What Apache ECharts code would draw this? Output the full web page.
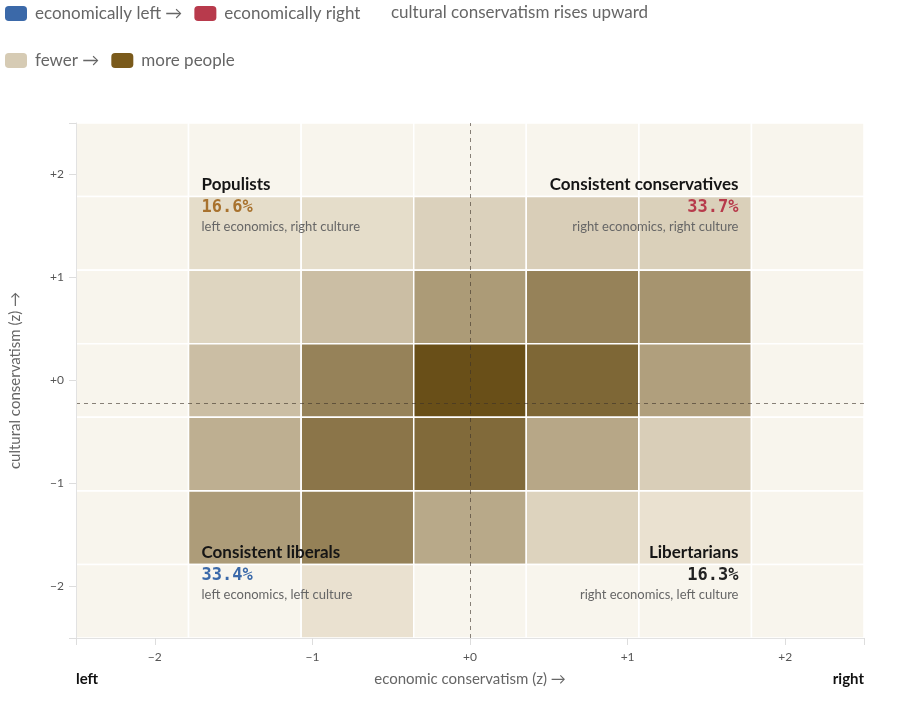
<!DOCTYPE html>
<html>
<head>
<meta charset="utf-8">
<script src="https://cdn.jsdelivr.net/npm/echarts@6/dist/echarts.min.js"></script>
<style>
  html, body { margin: 0; padding: 0; background: #fff; }
  #main { width: 900px; height: 705px; }
</style>
</head>
<body>
<div id="main"></div>
<script>
// bins of the 2D histogram (z-scores), 7 x 7
const binEdges = [-2.5, -1.786, -1.071, -0.357, 0.357, 1.071, 1.786, 2.5];
const econCenters = [-2.143, -1.429, -0.714, 0, 0.714, 1.429, 2.143];
const cultureCenters = [2.143, 1.429, 0.714, 0, -0.714, -1.429, -2.143];

// share of people (%) in each cell, rows top -> bottom, cols left -> right
const shareRows = [
  [0, 0,   0,   0,   0,   0,   0],
  [0, 0.9, 0.9, 1.6, 1.8, 1.7, 0],
  [0, 1.4, 2.8, 5.0, 6.5, 5.4, 0],
  [0, 2.8, 6.5, 9.7, 8.2, 4.7, 0],
  [0, 3.7, 7.3, 8.0, 4.2, 1.8, 0],
  [0, 4.9, 6.6, 4.1, 1.5, 0.6, 0],
  [0, 0,   0.6, 0,   0,   0,   0]
];

// reference lines
const econMean = 0;
const cultureMedian = -0.22;

// quadrant call-outs
const quadNames = ['Populists', 'Consistent conservatives', 'Consistent liberals', 'Libertarians'];
const quadShares = ['16.6%', '33.7%', '33.4%', '16.3%'];
const quadNotes = ['left economics, right culture', 'right economics, right culture',
                   'left economics, left culture', 'right economics, left culture'];
const quadColors = ['#a8722e', '#b73a4b', '#3b69a9', '#222222'];

const tickLabels = [-2, -1, 0, 1, 2];
const tickMarks = [-2.5, -2, -1, 0, 1, 2, 2.5];

const emptyColor = '#f8f5ed';
const minShare = 0.5, maxShare = 10;

const cells = [];
shareRows.forEach(function (row, r) {
  row.forEach(function (v, c) {
    cells.push([econCenters[c], cultureCenters[r], v]);
  });
});

// anchors sit on the inner bin edges of each corner
const quadData = [
  [binEdges[1], binEdges[6], 0],
  [binEdges[6], binEdges[6], 1],
  [binEdges[1], binEdges[1], 2],
  [binEdges[6], binEdges[1], 3]
];

const sans = 'Lato, "Noto Sans", sans-serif';
const mono = '"DejaVu Sans Mono", "Liberation Mono", monospace';

function signed(v) {
  if (v > 0) return '+' + v;
  if (v < 0) return '\u2212' + (-v);
  return '+0';
}

var legendBase = {
  left: 0,
  itemWidth: 22, itemHeight: 15, itemGap: 12,
  icon: 'roundRect',
  selectedMode: false,
  textStyle: { fontSize: 17, color: '#666', fontFamily: sans, padding: [0, 0, 0, 3] }
};

var myChart = echarts.init(document.getElementById('main'));
myChart.setOption({
  animation: false,
  textStyle: { fontFamily: sans },
  legend: [
    Object.assign({}, legendBase, { top: 0, data: ['economically left \u2192', 'economically right'] }),
    Object.assign({}, legendBase, { top: 47, data: ['fewer \u2192', 'more people'] })
  ],
  graphic: [
    { type: 'text', left: 391, top: 4,
      style: { text: 'cultural conservatism rises upward', fontSize: 17, fontFamily: sans, fill: '#666' } },
    { type: 'text', left: 76, top: 672,
      style: { text: 'left', fontSize: 15, fontWeight: 'bold', fontFamily: sans, fill: '#111' } },
    { type: 'text', right: 36, top: 672,
      style: { text: 'right', fontSize: 15, fontWeight: 'bold', fontFamily: sans, fill: '#111' } }
  ],
  grid: { left: 76, right: 36, top: 123, bottom: 67 },
  visualMap: {
    show: false,
    seriesIndex: 0,
    dimension: 2,
    min: minShare, max: maxShare,
    inRange: { color: ['#ebe3d2', '#654a12'] }
  },
  xAxis: {
    type: 'value', min: -2.5, max: 2.5, z: 10,
    name: 'economic conservatism (z) \u2192',
    nameLocation: 'middle', nameGap: 34,
    nameTextStyle: { fontSize: 15, color: '#666', fontFamily: sans },
    axisLine: { onZero: false, lineStyle: { color: '#e2e2e2' } },
    axisTick: { show: true, customValues: tickMarks, length: 7, lineStyle: { color: '#ddd' } },
    axisLabel: { customValues: tickLabels, formatter: signed, margin: 13, fontSize: 12, color: '#555' },
    splitLine: { show: false }
  },
  yAxis: {
    type: 'value', min: -2.5, max: 2.5, z: 10,
    name: 'cultural conservatism (z) \u2192',
    nameLocation: 'middle', nameGap: 53,
    nameTextStyle: { fontSize: 15, color: '#666', fontFamily: sans },
    axisLine: { show: true, onZero: false, lineStyle: { color: '#e2e2e2' } },
    axisTick: { show: true, customValues: tickMarks, length: 7, lineStyle: { color: '#ddd' } },
    axisLabel: { customValues: tickLabels, formatter: signed, margin: 12, fontSize: 12, color: '#555' },
    splitLine: { show: false }
  },
  series: [{
    type: 'custom',
    name: 'cells',
    data: cells,
    renderItem: function (params, api) {
      var half = (binEdges[1] - binEdges[0]) / 2;
      var x = api.value(0), y = api.value(1), v = api.value(2);
      var p0 = api.coord([x - half, y + half]);
      var p1 = api.coord([x + half, y - half]);
      return {
        type: 'rect',
        shape: { x: p0[0], y: p0[1], width: p1[0] - p0[0], height: p1[1] - p0[1] },
        style: { fill: v >= minShare ? api.visual('color') : emptyColor, stroke: '#fff', lineWidth: 1.5 }
      };
    },
    markLine: {
      silent: true,
      symbol: 'none',
      label: { show: false },
      lineStyle: { color: 'rgba(60,50,40,0.6)', type: [4, 4], width: 1 },
      data: [{ xAxis: econMean }, { yAxis: cultureMedian }]
    },
    z: 1
  }, {
    type: 'custom',
    name: 'quadrants',
    data: quadData,
    silent: true,
    z: 5,
    renderItem: function (params, api) {
      var i = api.value(2);
      var p = api.coord([api.value(0), api.value(1)]);
      var right = api.value(0) > 0;
      var dx = right ? -13 : 13;
      var align = right ? 'right' : 'left';
      return {
        type: 'group',
        children: [
          { type: 'text', x: p[0] + dx, y: p[1] - 12,
            style: { text: quadNames[i], fontSize: 17, fontWeight: 'bold', fontFamily: sans, fill: '#151515', align: align, verticalAlign: 'middle' } },
          { type: 'text', x: p[0] + dx, y: p[1] + 11,
            style: { text: quadShares[i], fontSize: 17, fontWeight: 'bold', fontFamily: mono, fill: quadColors[i], align: align, verticalAlign: 'middle' } },
          { type: 'text', x: p[0] + dx, y: p[1] + 30,
            style: { text: quadNotes[i], fontSize: 13, fontFamily: sans, fill: '#666', align: align, verticalAlign: 'middle' } }
        ]
      };
    }
  }, {
    type: 'scatter', name: 'economically left \u2192', data: [], itemStyle: { color: '#3b69a9', opacity: 1 }
  }, {
    type: 'scatter', name: 'economically right', data: [], itemStyle: { color: '#b83a4c', opacity: 1 }
  }, {
    type: 'scatter', name: 'fewer \u2192', data: [], itemStyle: { color: '#d6cbb4', opacity: 1 }
  }, {
    type: 'scatter', name: 'more people', data: [], itemStyle: { color: '#7a5a1b', opacity: 1 }
  }]
});
</script>
</body>
</html>
